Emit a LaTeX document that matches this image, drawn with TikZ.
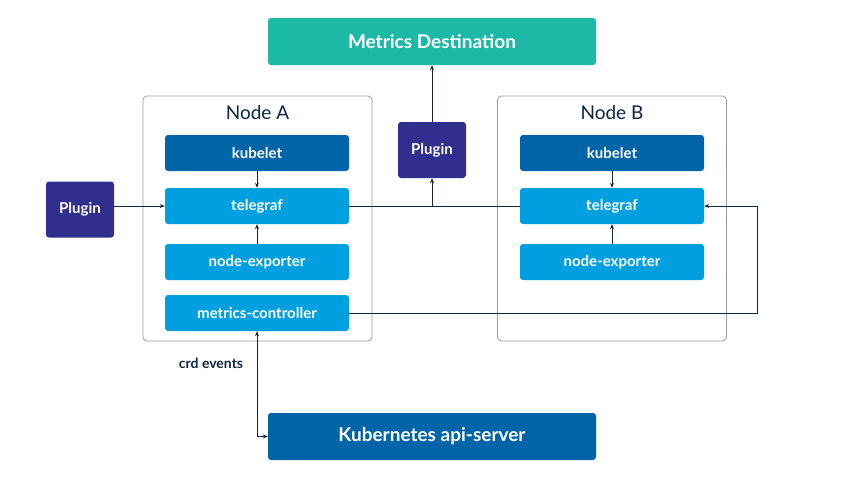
\documentclass[tikz,border=0pt]{standalone}
\usepackage{fontspec}
\usepackage{tikz}
\usetikzlibrary{arrows.meta}
\usetikzlibrary{calc}
\usetikzlibrary{positioning}
\setmainfont{Lato}
\definecolor{teal}{HTML}{1BB9A6}
\definecolor{darkblue}{HTML}{0064A8}
\definecolor{lightblue}{HTML}{00A0E0}
\definecolor{plum}{HTML}{312E8E}
\definecolor{ink}{HTML}{0E2640}
\definecolor{frame}{HTML}{9A9A9A}

\begin{document}
\begin{tikzpicture}[x=1pt, y=-1pt,
        box/.style={rounded corners=3pt, text=white, font=\bfseries\fontsize{15}{17}\selectfont, inner sep=0pt},
        wide/.style={box, minimum width=328pt, minimum height=47pt, font=\bfseries\fontsize{19}{21}\selectfont},
        comp/.style={box, minimum width=184pt, minimum height=36pt},
        plug/.style={box, fill=plum, minimum width=68pt, minimum height=56pt},
        host/.style={draw=frame, line width=0.8pt, rounded corners=4pt, minimum width=229pt, minimum height=245pt},
        conn/.style={draw=ink, line width=0.9pt},
        arr/.style={conn, -{Stealth[length=5pt, width=4pt]}}]
        \useasboundingbox (0, 0) rectangle (865, 480);

        \node[wide, fill=teal] (dest) at (432, 41.5) {Metrics Destination};
        \node[wide, fill=darkblue] (api) at (432, 436.5) {Kubernetes api-server};

        \node[host] (hostA) at (257.5, 218.5) {};
        \node[host] (hostB) at (612, 218.5) {};
        \node[ink, font=\fontsize{19}{21}\selectfont] at (257.5, 113) {Node A};
        \node[ink, font=\fontsize{19}{21}\selectfont] at (612, 113) {Node B};

        \foreach \n/\x in {A/257, B/612} {
            \node[comp, fill=darkblue] (kubelet\n) at (\x, 153) {kubelet};
            \node[comp, fill=lightblue] (telegraf\n) at (\x, 206) {telegraf};
            \node[comp, fill=lightblue] (exporter\n) at (\x, 262) {node-exporter};
            \path[arr] (kubelet\n.south) -- (telegraf\n.north);
            \path[arr] (exporter\n.north) -- (telegraf\n.south);
        }
        \node[comp, fill=lightblue] (controllerA) at (257, 313) {metrics-controller};

        \node[plug] (pluginL) at (80, 209.5) {Plugin};
        \node[plug] (pluginM) at (432, 150) {Plugin};

        \path[arr] (pluginL.east |- telegrafA.west) -- (telegrafA.west);
        \path[conn] (telegrafA.east) -- (telegrafB.west);
        \coordinate (tap) at (pluginM |- telegrafA);
        \path[arr] (tap) -- (pluginM.south);
        \path[arr] (pluginM.north) -- (dest.south);

        \coordinate (loop) at (757, 313);
        \path[arr] (controllerA.east) -- (loop) |- (telegrafB.east);

        \path[arr, {Stealth[length=5pt, width=4pt]}-{Stealth[length=5pt, width=4pt]}] (controllerA.south) |- (api.west);
        \node[ink, font=\bfseries\fontsize{14}{16}\selectfont] (crd) at (211, 363) {crd events};
    \end{tikzpicture}
\end{document}
